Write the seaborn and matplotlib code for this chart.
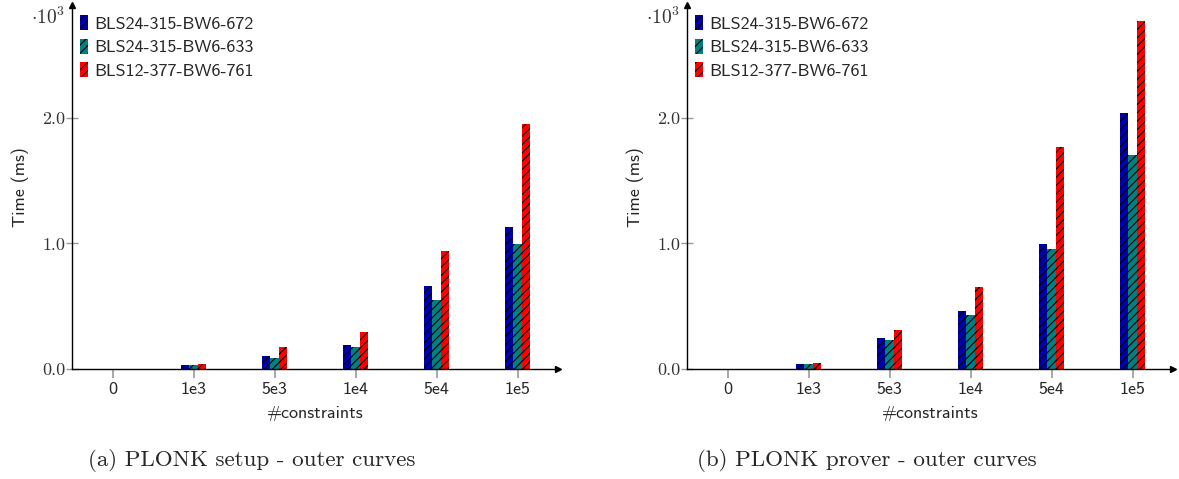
import pandas as pd
import matplotlib
matplotlib.use('Agg')
import matplotlib.pyplot as plt
from matplotlib.patches import Patch
import seaborn as sns

# values in units of 10^3 ms
sizes = ['0', '1e3', '5e3', '1e4', '5e4', '1e5']
curves = ['BLS24-315-BW6-672', 'BLS24-315-BW6-633', 'BLS12-377-BW6-761']
colors = ['#0000AA', '#008080', '#FF0000']

setup_672 = [0, 0.032, 0.106, 0.194, 0.661, 1.134]
setup_633 = [0, 0.032, 0.088, 0.175, 0.550, 0.996]
setup_761 = [0, 0.042, 0.172, 0.297, 0.940, 1.952]

prover_672 = [0, 0.042, 0.250, 0.464, 0.998, 2.040]
prover_633 = [0, 0.042, 0.233, 0.432, 0.955, 1.706]
prover_761 = [0, 0.050, 0.307, 0.650, 1.770, 2.770]

captions = ['(a) PLONK setup - outer curves', '(b) PLONK prover - outer curves']

sns.set_style('white')
plt.rcParams['font.family'] = ['cmss10', 'DejaVu Sans']
plt.rcParams['mathtext.fontset'] = 'cm'
plt.rcParams['axes.formatter.use_mathtext'] = True
plt.rcParams['hatch.linewidth'] = 0.8


def make_df(series):
    rows = []
    for curve, vals in zip(curves, series):
        for s, v in zip(sizes, vals):
            rows.append({'size': s, 'curve': curve, 'time': v})
    return pd.DataFrame(rows)


def draw_panel(ax, series, caption):
    df = make_df(series)
    sns.barplot(data=df, x='size', y='time', hue='curve', order=sizes,
                hue_order=curves, palette=colors, width=0.31, errorbar=None,
                saturation=1, legend=False, ax=ax)
    for bar in ax.patches:
        bar.set_hatch('////')
        bar.set_edgecolor('black')
        bar.set_linewidth(0)

    ax.set_xlim(-0.5, 5.5)
    ax.set_ylim(0, 2.9)
    ax.set_yticks([0, 1, 2])
    ax.set_yticklabels(['0.0', '1.0', '2.0'], family='cmr10', fontsize=13, color='#333333')
    ax.set_xticks(range(len(sizes)))
    ax.set_xticklabels(sizes, fontsize=13)
    ax.tick_params(axis='y', left=True, direction='inout', length=8, width=1,
                   color='#999999', pad=1)
    ax.tick_params(axis='x', bottom=True, direction='out', length=6.5, width=1.2,
                   color='#999999', pad=3)

    for side in ['top', 'right']:
        ax.spines[side].set_visible(False)
    for side in ['left', 'bottom']:
        ax.spines[side].set_color('black')
        ax.spines[side].set_linewidth(1.0)
    # arrow heads on the axes
    ax.plot(1, 0, '>k', markersize=5, transform=ax.transAxes, clip_on=False)
    ax.plot(0, 1, '^k', markersize=5, transform=ax.transAxes, clip_on=False)

    ax.set_xlabel('#constraints', fontsize=13, labelpad=6)
    ax.set_ylabel('Time (ms)', fontsize=13, labelpad=9)

    ax.annotate(r'$\cdot 10^{3}$', xy=(0, 1), xycoords='axes fraction',
                xytext=(-5, -14), textcoords='offset points', ha='right',
                va='baseline', fontsize=14, color='#333333')

    handles = [Patch(facecolor=c, edgecolor='black', hatch='////', linewidth=0) for c in colors]
    ax.legend(handles, curves, loc='upper left', bbox_to_anchor=(0.016, 0.972),
              frameon=False, fontsize=13, handlelength=0.45, handleheight=0.9,
              handletextpad=0.33, labelspacing=0.38, borderpad=0, borderaxespad=0)

    ax.text(0.37, -0.25, caption, transform=ax.transAxes, ha='center', va='center',
            family='cmr10', fontsize=16.6)


fig = plt.figure(figsize=(11.79, 4.79), dpi=100)
ax1 = fig.add_axes([72 / 1179, 110 / 479, 486 / 1179, 364 / 479])
ax2 = fig.add_axes([687 / 1179, 110 / 479, 486 / 1179, 364 / 479])

draw_panel(ax1, [setup_672, setup_633, setup_761], captions[0])
draw_panel(ax2, [prover_672, prover_633, prover_761], captions[1])

fig.savefig('out.png', dpi=100, facecolor='white')
